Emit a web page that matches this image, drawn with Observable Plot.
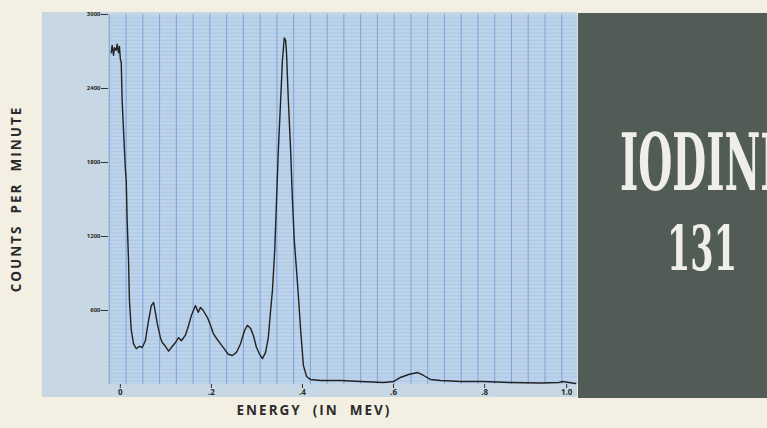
<!DOCTYPE html>
<html>
<head>
<meta charset="utf-8">
<script src="https://cdn.jsdelivr.net/npm/d3@7"></script>
<script src="https://cdn.jsdelivr.net/npm/@observablehq/plot@0.6"></script>
<style>
  html, body { margin: 0; padding: 0; background: #f3f0e3; }
  #wrap { position: relative; width: 767px; height: 428px; overflow: hidden; background: #f3f0e3; font-family: "Open Sans", "DejaVu Sans", sans-serif; }
  #panel { position: absolute; left: 42px; top: 12px; width: 535px; height: 385px; background: #c7d7e3; }
  #chart { position: absolute; left: 0; top: 0; }
  #box { position: absolute; left: 578px; top: 13px; width: 189px; height: 385px; background: #525c57; overflow: hidden; }
  .axt { position: absolute; font-weight: 700; font-size: 13.5px; color: #2b2b2b; letter-spacing: 2px; white-space: pre; }
  #ylab { left: 16px; top: 199px; transform: translate(-50%, -50%) rotate(-90deg); }
  #xlab { left: 314px; top: 410px; transform: translate(-50%, -50%); }
</style>
</head>
<body>
<div id="wrap">
  <div id="panel"></div>
  <div id="chart"></div>
  <div id="box"></div>
  <div class="axt" id="ylab">COUNTS  PER  MINUTE</div>
  <div class="axt" id="xlab">ENERGY  (IN  MEV)</div>
</div>
<script>
// Energy (MeV) and counts per minute
const energy = [-0.020, -0.018, -0.015, -0.013, -0.009, -0.007, -0.004, -0.002, 0.000, 0.002,
  0.004, 0.007, 0.011, 0.013, 0.015, 0.018, 0.020, 0.024, 0.029, 0.035,
  0.042, 0.048, 0.055, 0.062, 0.068, 0.073, 0.077, 0.081, 0.088, 0.092,
  0.099, 0.106, 0.112, 0.121, 0.128, 0.134, 0.143, 0.150, 0.156, 0.165,
  0.171, 0.176, 0.182, 0.191, 0.198, 0.204, 0.211, 0.220, 0.229, 0.237,
  0.246, 0.255, 0.264, 0.273, 0.279, 0.286, 0.292, 0.299, 0.306, 0.312,
  0.319, 0.325, 0.330, 0.334, 0.339, 0.343, 0.347, 0.352, 0.356, 0.360,
  0.363, 0.365, 0.369, 0.374, 0.378, 0.382, 0.387, 0.391, 0.396, 0.402,
  0.409, 0.418, 0.440, 0.484, 0.528, 0.578, 0.600, 0.615, 0.633, 0.653,
  0.666, 0.681, 0.703, 0.747, 0.798, 0.857, 0.923, 0.963, 0.971, 0.985, 1.000];
const counts = [2690, 2750, 2670, 2730, 2710, 2760, 2690, 2740, 2640, 2610,
  2300, 2060, 1750, 1650, 1330, 1005, 680, 440, 330, 290,
  310, 300, 355, 520, 640, 665, 585, 495, 380, 340,
  310, 270, 300, 340, 380, 355, 400, 480, 560, 640,
  585, 625, 600, 545, 480, 415, 375, 330, 285, 245,
  235, 260, 330, 440, 480, 455, 400, 300, 245, 210,
  260, 380, 600, 760, 1085, 1490, 1900, 2300, 2630, 2810,
  2790, 2685, 2300, 1900, 1490, 1170, 925, 720, 440, 155,
  65, 40, 32, 32, 24, 16, 24, 57, 81, 97,
  73, 41, 32, 24, 24, 16, 12, 16, 24, 16, 8];

const xTicks = [0, 0.2, 0.4, 0.6, 0.8];
const xTickLabels = ["0", ".2", ".4", ".6", ".8"];
const xLastTick = [1.0];
const xLastLabel = "1.0";
const yTicks = [600, 1200, 1800, 2400, 3000];
const yTickLabels = ["600", "1200", "1800", "2400", "3000"];
const titleLines = ["IODINE", "131"];

const data = energy.map((e, i) => ({e, c: counts[i]}));

const chart = Plot.plot({
  width: 767, height: 428,
  marginLeft: 108, marginRight: 190, marginTop: 14, marginBottom: 44,
  style: {background: "transparent", fontFamily: "'Open Sans', 'DejaVu Sans', sans-serif", color: "#2b2b2b"},
  x: {domain: [-0.026, 1.004]},
  y: {domain: [0, 3000]},
  marks: [
    Plot.frame({fill: "#bdd3ea", stroke: null}),
    Plot.ruleY(d3.range(30, 3000, 30), {stroke: "#a2bfe3", strokeWidth: 0.6}),
    Plot.ruleX(d3.range(-0.0242, 1.004, 0.0368), {stroke: "#7ea3d7", strokeWidth: 1}),
    Plot.line(data, {x: "e", y: "c", stroke: "#222", strokeWidth: 1.4}),
    Plot.axisY({ticks: yTicks, tickFormat: d => yTickLabels[yTicks.indexOf(d)], tickSize: 7, tickPadding: 1,
      fontSize: 6, fontWeight: "bold", label: null, stroke: "#333"}),
    Plot.axisX({ticks: xTicks, tickFormat: d => xTickLabels[xTicks.indexOf(d)], tickSize: 4, tickPadding: 1,
      fontSize: 8, fontWeight: "bold", label: null, stroke: "#333"}),
    Plot.axisX({ticks: xLastTick, tickFormat: () => xLastLabel, tickSize: 4, tickPadding: 1, dx: -9,
      fontSize: 8, fontWeight: "bold", label: null, stroke: "#333"})
  ]
});
document.getElementById("chart").appendChild(chart);

// Title block on the dark panel (condensed by horizontal scaling)
const box = d3.select("#box").append("svg").attr("width", 189).attr("height", 385);
function title(txt, left, baseline, size, targetWidth) {
  const t = box.append("text").text(txt)
    .attr("x", 0).attr("y", 0)
    .attr("font-family", "'DejaVu Serif Condensed', 'DejaVu Serif', serif")
    .attr("font-weight", "bold")
    .attr("font-size", size).attr("fill", "#efefe9");
  const w = t.node().getComputedTextLength() || targetWidth;
  t.attr("transform", `translate(${left},${baseline}) scale(${targetWidth / w},1)`);
}
title(titleLines[0], 42, 177, 78, 170);
title(titleLines[1], 89, 257, 62, 70);
</script>
</body>
</html>
